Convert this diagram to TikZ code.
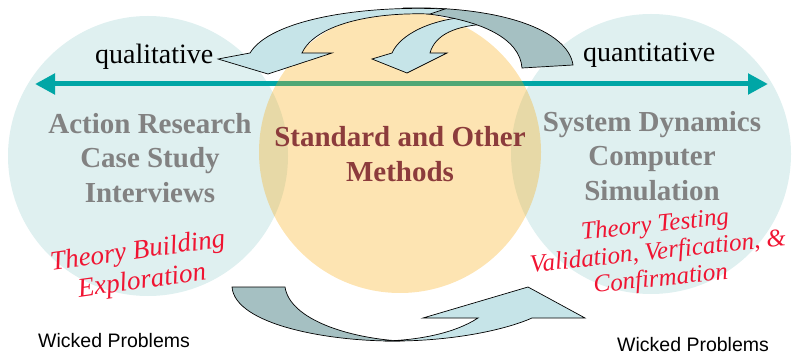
\documentclass[tikz,border=0pt]{standalone}
\usepackage{fontspec}
\setmainfont{Liberation Serif}
\newfontfamily\arialfont{Liberation Sans}
\usetikzlibrary{arrows.meta}

\definecolor{circteal}{RGB}{223,240,240}
\definecolor{circorange}{RGB}{250,171,15}
\definecolor{axisteal}{RGB}{0,166,166}
\definecolor{bandlight}{RGB}{198,228,232}
\definecolor{banddark}{RGB}{165,192,194}
\definecolor{methodgray}{RGB}{130,130,130}
\definecolor{methodred}{RGB}{140,60,60}
\definecolor{scriptred}{RGB}{240,20,50}

\tikzset{
  band/.style={draw=black, line width=0.7pt, line join=miter},
  method/.style={font=\fontsize{29}{34.5}\selectfont\bfseries, text=methodgray, align=center},
  scripttext/.style={font=\fontsize{27}{30}\selectfont\itshape, text=scriptred, align=center},
  sidelabel/.style={font=\fontsize{28}{32}\selectfont, anchor=base west, inner sep=0pt},
  wicked/.style={font=\arialfont\fontsize{19.5}{22}\selectfont, anchor=base west, inner sep=0pt},
}

\begin{document}
\begin{tikzpicture}[x=1pt,y=-1pt]
  \useasboundingbox (0,0) rectangle (794,355);

  \fill[circteal] (148,156) circle[radius=140pt];
  \fill[circteal] (651,154) circle[radius=140pt];

  \coordinate (axisL) at (35,84);
  \coordinate (axisR) at (768,84);
  \draw[axisteal, line width=5pt, {Triangle[length=20pt,width=20pt]}-{Triangle[length=20pt,width=20pt]}] (axisL) -- (axisR);

  \fill[circorange, fill opacity=0.32] (400,152) circle[radius=141pt];

  % arrows on top
  \filldraw[band, fill=bandlight] (478,16) .. controls (430,18) and (400,35) .. (392,53) -- (372,59) -- (407,73) -- (447,53) -- (430,53) .. controls (435,35) and (455,25) .. (490,24) -- cycle;
  \filldraw[band, fill=banddark] (405,8) .. controls (500,6) and (568,30) .. (573,65) -- (522,68) .. controls (520,40) and (485,20) .. (420,13) -- cycle;
  \filldraw[band, fill=bandlight] (445,9) .. controls (360,5) and (270,20) .. (250,53) -- (218,59) -- (268,74) -- (332,53) -- (302,53) .. controls (315,25) and (370,12) .. (430,14) -- cycle;

  \filldraw[band, fill=banddark] (232,287) -- (285,287) .. controls (290,320) and (350,338) .. (400,341) .. controls (330,342) and (235,325) .. (232,287) -- cycle;
  \filldraw[band, fill=bandlight] (385,341) .. controls (450,342) and (505,330) .. (532,318) -- (585,318) -- (528,287) -- (423,318) -- (478,318) .. controls (455,333) and (420,340) .. (385,341) -- cycle;

  \node[sidelabel] (qual) at (95,64) {qualitative};
  \node[sidelabel] (quant) at (583,62) {quantitative};

  \node[method] (leftmeth) at (150,158) {Action Research\\Case Study\\Interviews};
  \node[method, text=methodred] (midmeth) at (400,154) {Standard and Other\\Methods};
  \node[method] (rightmeth) at (652,156) {System Dynamics\\Computer\\Simulation};

  \node[scripttext, rotate=8] (leftscript) at (140,267) {Theory Building\\Exploration};
  \node[scripttext, rotate=6, font=\fontsize{25}{27}\selectfont\itshape] (rightscript) at (658,253) {Theory Testing\\Validation, Verfication, \&\\Confirmation};

  \node[wicked] (leftwicked) at (38,347) {Wicked Problems};
  \node[wicked] (rightwicked) at (617,351) {Wicked Problems};
\end{tikzpicture}
\end{document}
